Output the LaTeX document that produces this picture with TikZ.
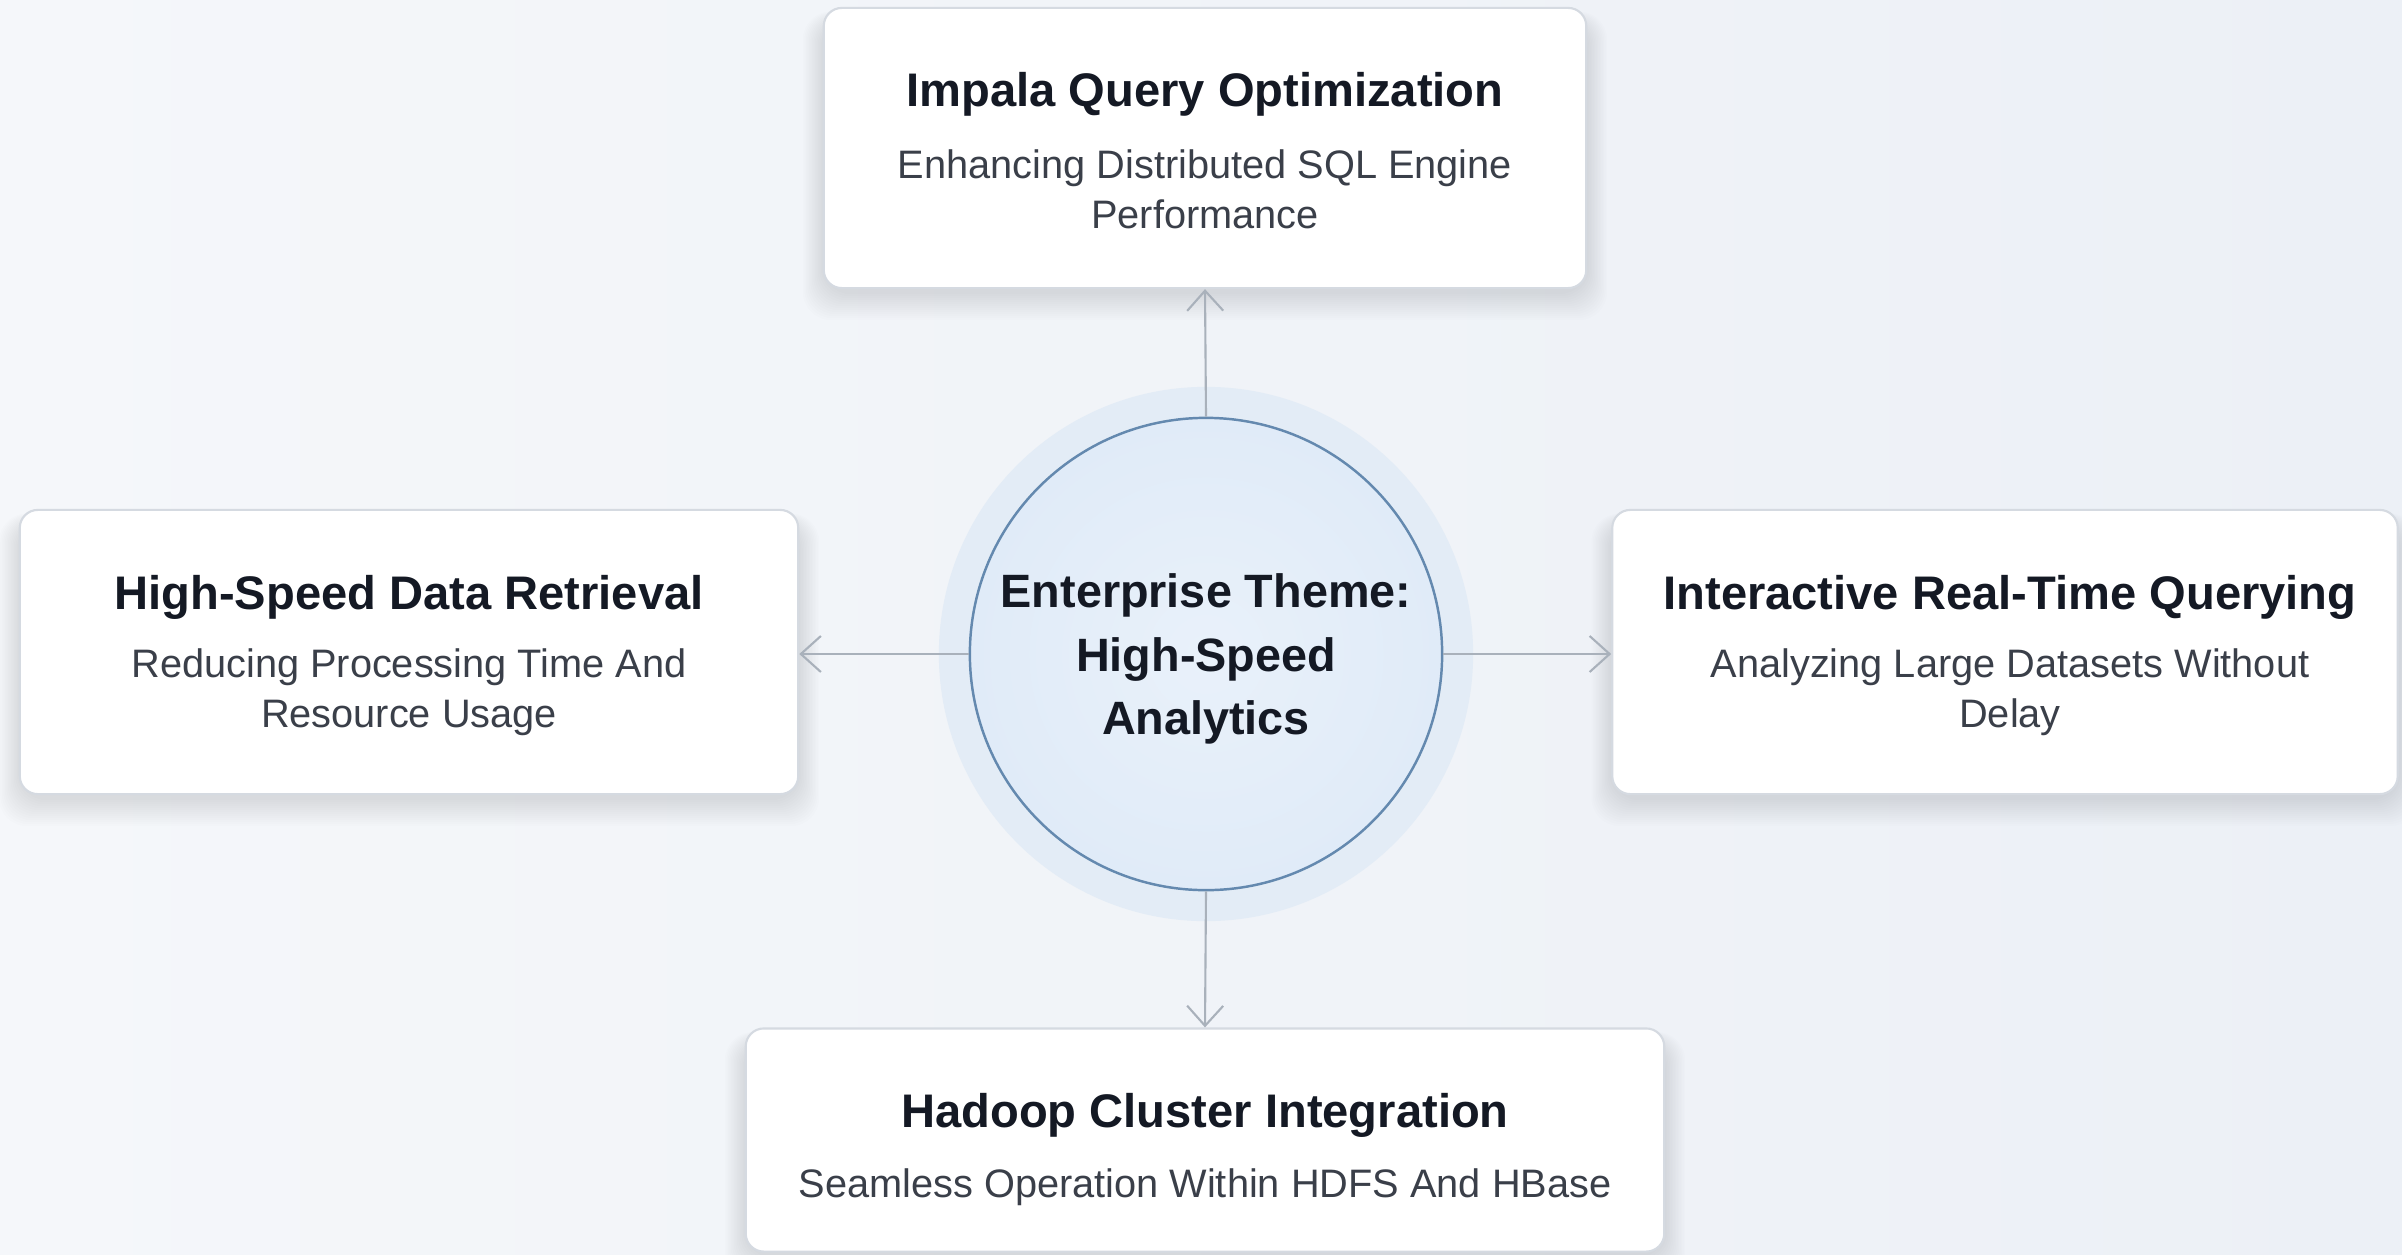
\documentclass[tikz,border=0pt]{standalone}
\usepackage{fontspec}
\setmainfont{Liberation Sans}
\usetikzlibrary{arrows.meta}
\definecolor{bgA}{HTML}{F5F7FA}
\definecolor{bgB}{HTML}{ECF0F6}
\definecolor{boxline}{HTML}{D5DAE1}
\definecolor{titlec}{HTML}{141924}
\definecolor{subc}{HTML}{3A3F49}
\definecolor{arrc}{HTML}{A9B1BB}
\definecolor{circline}{HTML}{6489AF}
\definecolor{circfill}{HTML}{E0EBF8}
\definecolor{circin}{HTML}{E9F1FA}
\definecolor{halo}{HTML}{E3ECF6}
\definecolor{shadowc}{HTML}{5A6878}
\newcommand{\cardshadow}[4]{%
  \foreach \k in {1,...,14}{%
    \fill[shadowc, opacity=0.011, rounded corners=0.28cm]
      (#1-#3/2-\k*1.5, #2-#4/2+12-\k*0.6) rectangle (#1+#3/2+\k*1.5, #2+#4/2+4+\k*2);
  }}
\begin{document}
\begin{tikzpicture}[x=0.01cm,y=-0.01cm,
  card/.style={draw=boxline, line width=0.6pt, fill=white, rounded corners=0.18cm, inner sep=0pt},
  ttl/.style={text=titlec, font=\fontsize{13.4}{16}\selectfont\bfseries, inner sep=0pt},
  sub/.style={text=subc, font=\fontsize{11.3}{14.3}\selectfont, align=center, inner sep=0pt},
  link/.style={draw=arrc, line width=0.6pt, -{Straight Barb[length=2mm,width=3.6mm,line width=0.6pt]}}]
\useasboundingbox (0,0) rectangle (2402,1254);
\shade[left color=bgA, right color=bgB] (0,0) rectangle (2402,1254);

% hub
\fill[halo] (1206,654) circle[radius=2.67cm];
\node[circle, minimum size=4.72cm, inner sep=0pt, draw=circline, line width=0.7pt,
      inner color=circin, outer color=circfill, text=titlec, align=center,
      font=\fontsize{13.3}{18}\selectfont\bfseries] (hub) at (1206,654) {};
\node[text=titlec, align=center, inner sep=0pt,
      font=\fontsize{13.3}{18}\selectfont\bfseries] (hubtext) at (1206,659)
      {Enterprise Theme:\\High-Speed\\Analytics};

% card shadows
\cardshadow{1205}{148}{762}{280}
\cardshadow{409}{652}{778}{284}
\cardshadow{2005}{652}{785}{284}
\cardshadow{1205}{1140}{918}{223}

% cards
\node[card, minimum width=7.62cm, minimum height=2.80cm] (topbox) at (1205,148) {};
\node[card, minimum width=7.78cm, minimum height=2.84cm] (leftbox) at (409,652) {};
\node[card, minimum width=7.85cm, minimum height=2.84cm] (rightbox) at (2005,652) {};
\node[card, minimum width=9.18cm, minimum height=2.23cm] (botbox) at (1205,1140) {};

% texts
\node[ttl] (t1) at (1205,94) {Impala Query Optimization};
\node[sub] (s1) at (1205,189) {Enhancing Distributed SQL Engine\\Performance};
\node[ttl] (t2) at (409,597) {High-Speed Data Retrieval};
\node[sub] (s2) at (409,692) {Reducing Processing Time And\\Resource Usage};
\node[ttl] (t3) at (2010,597) {Interactive Real-Time Querying};
\node[sub] (s3) at (2010,692) {Analyzing Large Datasets Without\\Delay};
\node[ttl] (t4) at (1205,1115) {Hadoop Cluster Integration};
\node[sub] (s4) at (1205,1187) {Seamless Operation Within HDFS And HBase};

% connectors
\draw[link] (hub.north) -- (topbox.south);
\draw[link] (hub.south) -- (botbox.north);
\draw[link] (hub.west) -- (leftbox.east |- hub.west);
\draw[link] (hub.east) -- (rightbox.west |- hub.east);
\end{tikzpicture}
\end{document}
